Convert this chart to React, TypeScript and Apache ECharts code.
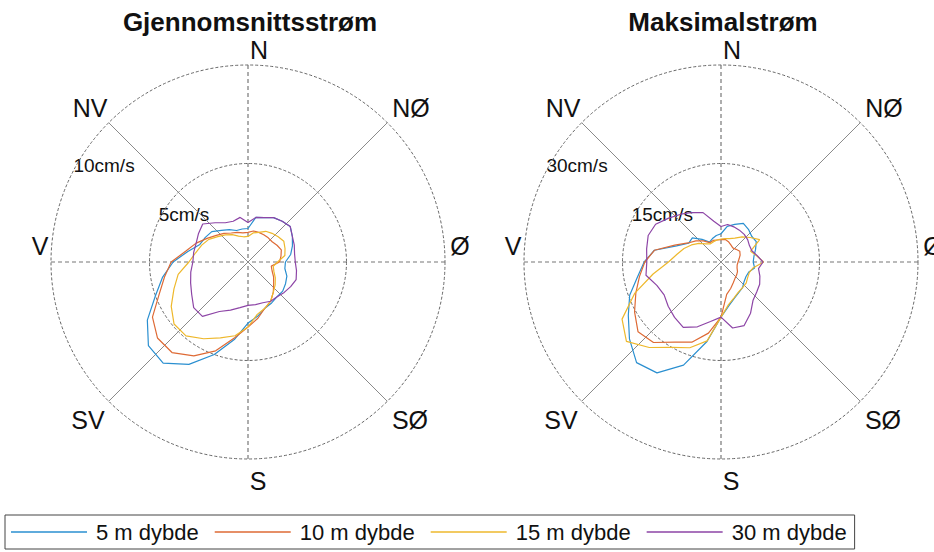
import React, { useEffect, useRef } from "react";
import * as echarts from "echarts";

// ---- data ----
const directions = [0, 10, 20, 30, 40, 50, 60, 70, 80, 90, 100, 110, 120, 130, 140, 150, 160, 170, 180, 190, 200, 210, 220, 230, 240, 250, 260, 270, 280, 290, 300, 310, 320, 330, 340, 350];
const seriesNames = ["5 m dybde", "10 m dybde", "15 m dybde", "30 m dybde"];
const seriesColors = ["#2a8fd0", "#de6a35", "#eeb82c", "#8d45a6"];

// Gjennomsnittsstrøm (cm/s)
const avg5m = [1.7, 2.3, 2.4, 2.6, 2.7, 2.8, 2.6, 2.4, 2.2, 1.9, 1.9, 2.1, 2.2, 2.3, 2.3, 2.4, 2.5, 2.8, 3.1, 4.0, 5.0, 6.0, 6.7, 6.6, 5.9, 5.0, 4.4, 3.8, 3.1, 2.6, 2.5, 2.4, 2.1, 1.9, 1.7, 1.7];
const avg10m = [1.5, 1.6, 1.6, 1.6, 1.6, 1.6, 1.7, 1.8, 1.7, 1.6, 1.2, 1.3, 1.5, 1.7, 2.0, 2.3, 2.5, 2.9, 3.3, 3.9, 4.8, 5.5, 6.0, 6.0, 5.6, 4.8, 4.3, 3.9, 3.2, 2.8, 2.4, 2.1, 1.9, 1.7, 1.6, 1.5];
const avg15m = [1.3, 1.5, 1.6, 1.8, 1.9, 2.0, 2.1, 2.0, 1.9, 1.5, 1.3, 1.4, 1.6, 1.8, 2.0, 2.3, 2.5, 2.7, 3.3, 3.8, 4.1, 4.5, 4.9, 4.9, 4.5, 4.0, 3.6, 3.0, 2.7, 2.5, 2.3, 2.0, 1.8, 1.6, 1.4, 1.3];
const avg30m = [2.0, 2.3, 2.4, 2.6, 2.7, 2.8, 2.6, 2.5, 2.4, 2.4, 2.5, 2.6, 2.5, 2.4, 2.3, 2.3, 2.2, 2.2, 2.2, 2.35, 2.6, 2.9, 3.6, 3.6, 3.3, 3.1, 2.95, 2.8, 2.8, 2.8, 2.9, 3.0, 2.6, 2.3, 2.2, 2.3];

// Maksimalstrøm (cm/s)
const max5m = [4.3, 5.5, 6.1, 6.8, 6.5, 6.1, 6.2, 5.6, 5.1, 4.9, 5.2, 4.5, 4.4, 4.6, 5.1, 5.4, 5.9, 6.8, 8.4, 12.3, 16.7, 19.5, 20.0, 18.2, 16.3, 14.8, 12.9, 11.7, 10.3, 7.2, 5.7, 5.7, 4.5, 3.5, 3.8, 4.1];
const max10m = [3.4, 3.5, 3.3, 3.0, 2.8, 3.0, 3.3, 3.1, 2.8, 2.6, 2.5, 2.6, 2.9, 3.1, 3.3, 3.7, 4.3, 5.0, 8.4, 11.0, 13.0, 14.1, 16.0, 16.5, 15.2, 13.8, 12.6, 11.6, 10.3, 7.5, 5.8, 5.0, 4.2, 3.4, 3.5, 3.4];
const max15m = [3.5, 3.6, 3.8, 4.2, 5.0, 5.8, 6.8, 4.8, 5.5, 6.5, 5.0, 4.6, 4.7, 5.0, 5.1, 5.3, 5.8, 6.6, 8.4, 12.2, 13.9, 15.0, 17.0, 18.8, 17.4, 14.0, 10.5, 8.0, 6.8, 6.0, 5.2, 4.4, 3.6, 3.2, 3.3, 3.4];
const max30m = [5.4, 5.8, 5.7, 5.6, 5.5, 5.3, 5.0, 5.0, 5.6, 6.4, 5.8, 6.3, 6.8, 7.1, 7.6, 9.0, 10.3, 10.2, 8.4, 9.2, 10.5, 11.5, 11.0, 10.5, 10.0, 10.4, 11.6, 11.3, 11.5, 11.8, 11.5, 10.4, 9.5, 8.7, 8.0, 6.3];

const titles = ["Gjennomsnittsstrøm", "Maksimalstrøm"];
const compassLabels = ["N", "NØ", "Ø", "SØ", "S", "SV", "V", "NV"];
const avgRingLabels = ["5cm/s", "10cm/s"];
const maxRingLabels = ["15cm/s", "30cm/s"];
const avgMax = 10;
const maxMax = 30;

// ---- layout ----
const W = 934;
const H = 552;
const R = 197;
const centers: [number, number][] = [
  [248, 262],
  [721, 262],
];
const compassOffsets: [number, number][] = [
  [11, -212],
  [163, -154],
  [212, -16],
  [162, 158],
  [10, 219],
  [-160, 158],
  [-208, -16],
  [-158, -154],
];
const FONT = "Liberation Sans, Arial, Helvetica, sans-serif";

function closed(vals: number[]) {
  const pts = vals.map((v, i) => [v, directions[i]]);
  pts.push([vals[0], 360]);
  return pts;
}

export default function App() {
  const ref = useRef<HTMLDivElement>(null);

  useEffect(() => {
    if (!ref.current) return;
    const chart = echarts.init(ref.current, undefined, { renderer: "svg" });

    const plots = [
      { data: [avg5m, avg10m, avg15m, avg30m], max: avgMax, ring: avgRingLabels },
      { data: [max5m, max10m, max15m, max30m], max: maxMax, ring: maxRingLabels },
    ];

    const polar: any[] = [];
    const angleAxis: any[] = [];
    const radiusAxis: any[] = [];
    const series: any[] = [];
    const graphic: any[] = [];

    plots.forEach((p, pi) => {
      const [cx, cy] = centers[pi];
      // main polar (dashed circles + dashed N-S / V-Ø)
      polar.push({ center: [cx, cy], radius: R });
      angleAxis.push({
        polarIndex: pi * 2,
        type: "value",
        min: 0,
        max: 360,
        interval: 90,
        startAngle: 90,
        clockwise: true,
        axisLine: { show: false },
        axisTick: { show: false },
        axisLabel: { show: false },
        splitLine: { show: true, lineStyle: { color: "#777", width: 1.2, type: [4, 3] } },
      });
      radiusAxis.push({
        polarIndex: pi * 2,
        type: "value",
        min: 0,
        max: p.max,
        interval: p.max / 2,
        axisLine: { show: false },
        axisTick: { show: false },
        axisLabel: { show: false },
        splitLine: { show: true, lineStyle: { color: "#666", width: 1, type: [3, 2] } },
      });
      // diagonal polar (solid diagonals)
      polar.push({ center: [cx, cy], radius: R });
      angleAxis.push({
        polarIndex: pi * 2 + 1,
        type: "value",
        min: 0,
        max: 360,
        interval: 45,
        startAngle: 90,
        clockwise: true,
        axisLine: { show: false },
        axisTick: { show: false },
        axisLabel: { show: false },
        splitLine: { show: true, lineStyle: { color: ["rgba(0,0,0,0)", "#8a8a8a"], width: 1 } },
      });
      radiusAxis.push({
        polarIndex: pi * 2 + 1,
        type: "value",
        min: 0,
        max: p.max,
        axisLine: { show: false },
        axisTick: { show: false },
        axisLabel: { show: false },
        splitLine: { show: false },
      });

      p.data.forEach((vals, si) => {
        series.push({
          type: "line",
          name: seriesNames[si],
          coordinateSystem: "polar",
          polarIndex: pi * 2,
          data: closed(vals),
          symbol: "none",
          smooth: false,
          lineStyle: { color: seriesColors[si], width: 1.2 },
          itemStyle: { color: seriesColors[si] },
          z: 5,
        });
      });

      // title
      graphic.push({
        type: "text",
        x: cx + 2,
        y: 22,
        style: {
          text: titles[pi],
          font: `bold 26px ${FONT}`,
          fill: "#111",
          textAlign: "center",
          textVerticalAlign: "middle",
        },
      });
      // compass labels
      compassLabels.forEach((lab, li) => {
        graphic.push({
          type: "text",
          x: cx + compassOffsets[li][0],
          y: cy + compassOffsets[li][1],
          style: {
            text: lab,
            font: `25px ${FONT}`,
            fill: "#111",
            textAlign: "center",
            textVerticalAlign: "middle",
          },
        });
      });
      // ring labels at 300°
      const a = (300 * Math.PI) / 180;
      p.ring.forEach((lab, ri) => {
        const frac = (ri + 1) / p.ring.length;
        graphic.push({
          type: "text",
          x: cx + R * frac * Math.sin(a) - 4,
          y: cy - R * frac * Math.cos(a) + 2,
          style: {
            text: lab,
            font: `19px ${FONT}`,
            fill: "#111",
            textAlign: "left",
            textVerticalAlign: "middle",
          },
        });
      });
    });

    chart.setOption({
      animation: false,
      backgroundColor: "#fff",
      polar,
      angleAxis,
      radiusAxis,
      series,
      graphic,
      legend: {
        data: seriesNames,
        left: 5,
        top: 515,
        orient: "horizontal",
        icon: "rect",
        itemWidth: 76,
        itemHeight: 1.5,
        itemGap: 16,
        padding: [6, 8, 6, 6],
        borderColor: "#444",
        borderWidth: 1,
        backgroundColor: "#fff",
        textStyle: { fontSize: 22, fontFamily: FONT, color: "#111", padding: [0, 0, 0, 4] },
      },
    });

    return () => chart.dispose();
  }, []);

  return (
    <div
      ref={ref}
      style={{ position: "fixed", left: 0, top: 0, width: W, height: H, background: "#fff" }}
    />
  );
}
